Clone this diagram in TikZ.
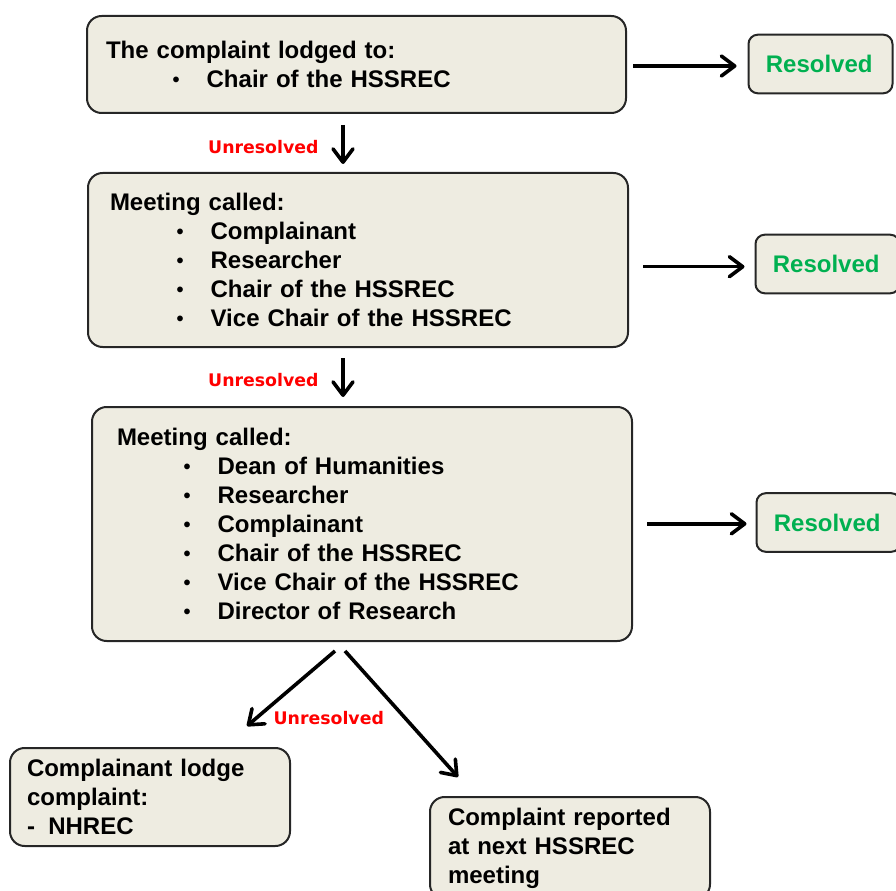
\documentclass[tikz,border=0pt]{standalone}
\usepackage{fontspec}
\setmainfont{Liberation Sans}
\newfontfamily\labfont{DejaVu Sans}
\usetikzlibrary{arrows.meta}
\definecolor{boxfill}{HTML}{EEECE1}
\definecolor{resgreen}{HTML}{00B050}
\definecolor{unred}{HTML}{FF0000}
\newcommand{\bul}[1]{\hspace*{50pt}\makebox[25.5pt][l]{\raisebox{0.8pt}{\fontsize{15}{15}\selectfont\textbullet}}#1}

\begin{document}
\begin{tikzpicture}[x=0.75pt,y=-0.75pt,
    box/.style={draw=black!85,line width=1.5pt,fill=boxfill,rounded corners=11pt,align=left,
      font=\fontsize{18}{21.75}\selectfont\bfseries},
    resbox/.style={box,rounded corners=7pt,text=resgreen,text width=82pt,inner xsep=13pt,minimum height=44pt},
    arr/.style={-{Straight Barb[length=10pt,width=15pt,line join=round,line cap=round]},line width=2.7pt},
    unres/.style={text=unred,font=\labfont\fontsize{13}{15}\selectfont\bfseries,inner sep=0pt}]
    \useasboundingbox (0,0) rectangle (896,891);
    % main boxes
    \node[box,text width=375.75pt,inner xsep=14.25pt,minimum height=72.75pt] (b1) at (356.5,64.5)
      {The complaint lodged to:\\\bul{Chair of the HSSREC}};
    \node[box,text width=372pt,inner xsep=16.5pt,minimum height=130.5pt] (b2) at (358,260)
      {Meeting called:\\\bul{Complainant}\\\bul{Researcher}\\\bul{Chair of the HSSREC}\\\bul{Vice Chair of the HSSREC}};
    \node[box,text width=367.5pt,inner xsep=18.75pt,minimum height=175.5pt] (b3) at (362,524)
      {Meeting called:\\\bul{Dean of Humanities}\\\bul{Researcher}\\\bul{Complainant}\\\bul{Chair of the HSSREC}\\\bul{Vice Chair of the HSSREC}\\\bul{Director of Research}};
    \node[box,text width=184.5pt,inner xsep=12.75pt,minimum height=73.5pt] (b4) at (150,797)
      {Complainant lodge\\complaint:\\-\hspace{10pt}NHREC};
    \node[box,text width=183pt,inner xsep=13.5pt,minimum height=76.5pt] (b5) at (570,848)
      {Complaint reported\\at next HSSREC\\meeting};
    % resolved boxes
    \node[resbox] (r1) at (820.5,64) {Resolved};
    \node[resbox] (r2) at (827.5,264) {Resolved};
    \node[resbox] (r3) at (828.5,522.5) {Resolved};
    % arrows
    \draw[arr,shorten <=4.5pt,shorten >=8.25pt] ([yshift=-1.5pt]b1.east |- r1.west) -- ([yshift=-1.5pt]r1.west);
    \draw[arr,shorten <=10.5pt,shorten >=7.5pt] ([yshift=-2pt]b2.east |- r2.west) -- ([yshift=-2pt]r2.west);
    \draw[arr,shorten <=10.5pt,shorten >=6.75pt] ([yshift=-1pt]b3.east |- r3.west) -- ([yshift=-1pt]r3.west);
    \draw[arr] ([xshift=-10.125pt,yshift=-8.25pt]b1.south) -- ([xshift=-11.25pt,yshift=6pt]b2.north)
      node[midway,left=17pt,yshift=-2pt,unres] {Unresolved};
    \draw[arr] ([xshift=-11.25pt,yshift=-7.5pt]b2.south) -- ([xshift=-14.25pt,yshift=6.75pt]b3.north)
      node[midway,left=17pt,yshift=-2pt,unres] {Unresolved};
    \draw[arr] ([xshift=-20.25pt,yshift=-6.75pt]b3.south) -- ([xshift=-33pt,yshift=15.75pt]b4.north east)
      node[pos=0.9,right=12pt,unres] {Unresolved};
    \draw[arr] ([xshift=-12.75pt,yshift=-6.75pt]b3.south) -- ([xshift=21.75pt,yshift=14.25pt]b5.north west);
  \end{tikzpicture}
\end{document}
